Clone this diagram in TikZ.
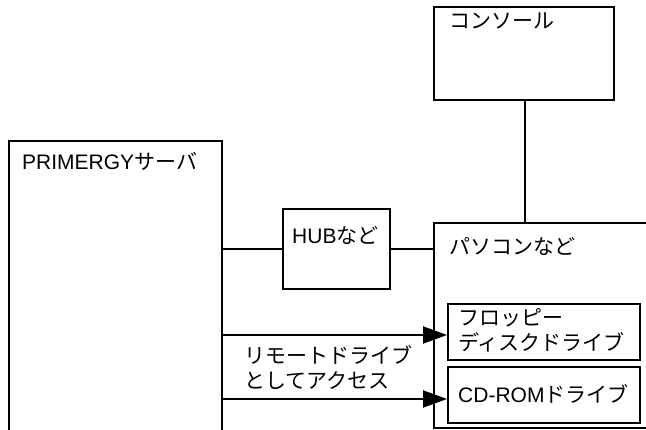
\documentclass[tikz,border=0pt]{standalone}
\usepackage{fontspec}
\setmainfont{Liberation Sans}
\newfontfamily\jp{Noto Sans CJK JP}
\usetikzlibrary{arrows.meta}
\begin{document}
\begin{tikzpicture}[x=1pt,y=-1pt,
  box/.style={draw, line width=2pt, inner sep=0pt, rectangle, anchor=north west},
  lbl/.style={anchor=west, inner sep=0pt, font=\fontsize{21}{25}\selectfont\jp, align=left},
  wire/.style={line width=2pt},
  arr/.style={line width=2pt, -{Triangle[length=24pt,width=17pt]}}]
\useasboundingbox (0,0) rectangle (646,430);
\clip (0,0) rectangle (646,430);
% boxes
\node[box, minimum width=213pt, minimum height=310pt] (srv) at (8,140) {};
\node[box, minimum width=180pt, minimum height=93pt] (con) at (433,6) {};
\node[box, minimum width=240pt, minimum height=205pt] (pc) at (433,222) {};
\node[box, minimum width=107pt, minimum height=80pt] (hub) at (282,208) {};
\node[box, minimum width=192pt, minimum height=56pt] (fd) at (447,303) {};
\node[box, minimum width=192pt, minimum height=56pt] (cd) at (447,366) {};
% labels
\node[lbl] (srvt) at (22,161) {{\rmfamily PRIMERGY}サーバ};
\node[lbl] (cont) at (449,21) {コンソール};
\node[lbl] (pct) at (449,246) {パソコンなど};
\node[lbl] (hubt) at (292,235) {{\rmfamily HUB}など};
\node[lbl, anchor=north west] (fdt) at (458,308) {フロッピー\\ディスクドライブ};
\node[lbl] (cdt) at (458,394) {{\rmfamily CD-ROM}ドライブ};
\node[lbl, anchor=north west] (acc) at (244,345) {リモートドライブ\\としてアクセス};
% connectors
\draw[wire] (srv.east |- hub.west) -- (hub.west);
\draw[wire] (hub.east) -- (hub.east -| pc.west);
\draw[wire] (con.south -| 525,0) -- (pc.north -| 525,0);
\coordinate (a1) at (447,335);
\coordinate (a2) at (447,399);
\draw[arr] (srv.east |- a1) -- (a1);
\draw[arr] (srv.east |- a2) -- (a2);
\end{tikzpicture}
\end{document}
